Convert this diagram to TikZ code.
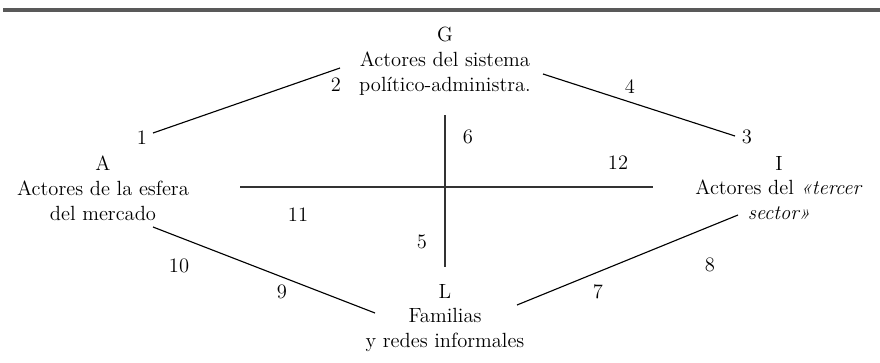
\documentclass[tikz,border=0pt]{standalone}
\usepackage{tikz}
\usetikzlibrary{shapes,arrows, positioning}
\tikzstyle{actor} = [align=center, inner sep = 1pt, font=\fontsize{14.6}{17.7}\selectfont]
\tikzstyle{num} = [inner sep = 1pt, font=\fontsize{14.6}{17.7}\selectfont]
\tikzstyle{line} = [draw, line width = 0.8pt]
\tikzstyle{axis} = [draw, black!80, line width = 1.2pt]
\tikzstyle{rule} = [draw, black!65, line width = 2.2pt]
\begin{document}
\begin{tikzpicture}[x=0.025cm, y=-0.025cm]
			\useasboundingbox (0,0) rectangle (880,362);
			\coordinate (rl) at (3,10);
			\coordinate (rr) at (880,10);
			\path [rule] (rl) -- (rr);
			
			\node [actor] (G) at (445,61) {G\\Actores del sistema\\político-administra.};
			\node [actor] (A) at (103,188) {A\\Actores de la esfera\\del mercado};
			\node [actor] (I) at (779,188) {I\\Actores del \textit{«tercer}\\\textit{sector»}};
			\node [actor] (L) at (445,318) {L\\Familias\\y redes informales};
			
			\node [num] (n1) at (142,138) {1};
			\node [num] (n2) at (336,85) {2};
			\node [num] (n3) at (747,137) {3};
			\node [num] (n4) at (630,87) {4};
			\node [num] (n5) at (422,242) {5};
			\node [num] (n6) at (468,137) {6};
			\node [num] (n7) at (598,292) {7};
			\node [num] (n8) at (710,265) {8};
			\node [num] (n9) at (282,292) {9};
			\node [num] (n10) at (179,266) {10};
			\node [num] (n11) at (298,215) {11};
			\node [num] (n12) at (618,163) {12};
			
			\coordinate (ga) at (340,68);
			\coordinate (ag) at (153,133);
			\coordinate (gi) at (543,74);
			\coordinate (ig) at (735,136);
			\coordinate (al) at (153,227);
			\coordinate (la) at (375,313);
			\coordinate (li) at (517,305);
			\coordinate (il) at (738,215);
			\coordinate (top) at (445,115);
			\coordinate (bot) at (445,267);
			\coordinate (left) at (240,187);
			\coordinate (right) at (653,187);
			
			\path [line] (ga) -- (ag);
			\path [line] (gi) -- (ig);
			\path [line] (al) -- (la);
			\path [line] (li) -- (il);
			\path [axis] (top) -- (bot);
			\path [axis] (left) -- (right);
		\end{tikzpicture}
\end{document}
